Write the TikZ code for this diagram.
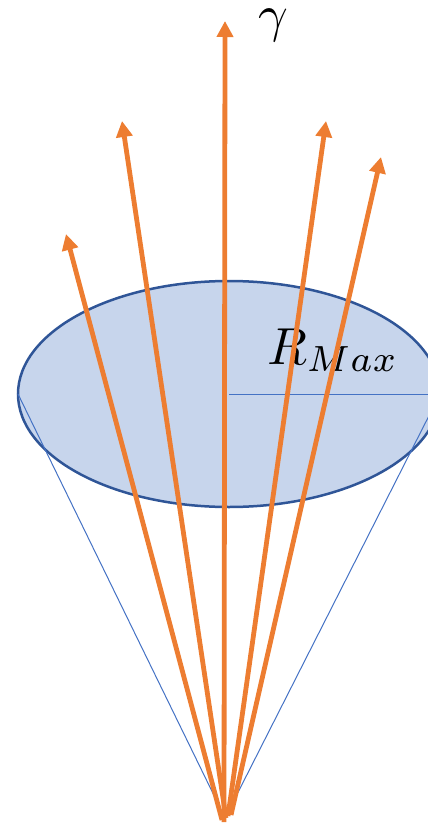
\documentclass[tikz,border=0pt]{standalone}
\usetikzlibrary{arrows.meta}

\definecolor{rayorange}{RGB}{237,125,49}
\definecolor{diskfill}{RGB}{199,213,236}
\definecolor{diskedge}{RGB}{47,85,151}
\definecolor{conelin}{RGB}{68,114,196}

\tikzset{
    ray/.style={rayorange, line width=4.8pt, -{Triangle[width=16pt,length=16pt]}},
    coneline/.style={conelin, line width=1pt},
    biglabel/.style={scale=5.2, inner sep=0pt}
}

\begin{document}
\begin{tikzpicture}[x=1pt,y=-1pt]
        \useasboundingbox (0,0) rectangle (428,824);

        \coordinate (apex) at (225,818);
        \coordinate (ctr) at (229,394);
        \coordinate (lft) at (18,394);
        \coordinate (rgt) at (440,394);

        % disk
        \fill[diskfill] (ctr) ellipse [x radius=211, y radius=113];
        \draw[diskedge, line width=2.5pt] (ctr) ellipse [x radius=211, y radius=113];

        % cone and radius
        \draw[coneline] (lft) -- (apex) -- (rgt);
        \draw[coneline] (ctr) -- (rgt);

        \node[biglabel, anchor=base west] (rmax) at (266,364) {$R_{Max}$};
        \node[biglabel, anchor=base] (gam) at (273,32) {$\gamma$};

        % rays
        \foreach \n/\bx/\by/\tx/\ty in {1/222/820/66/234, 2/226/818/122/121, 3/224/822/225/21, 4/228/816/326/121, 5/231/815/381/157} {
            \coordinate (b\n) at (\bx,\by);
            \coordinate (t\n) at (\tx,\ty);
            \draw[ray] (b\n) -- (t\n);
        }
\end{tikzpicture}
\end{document}
